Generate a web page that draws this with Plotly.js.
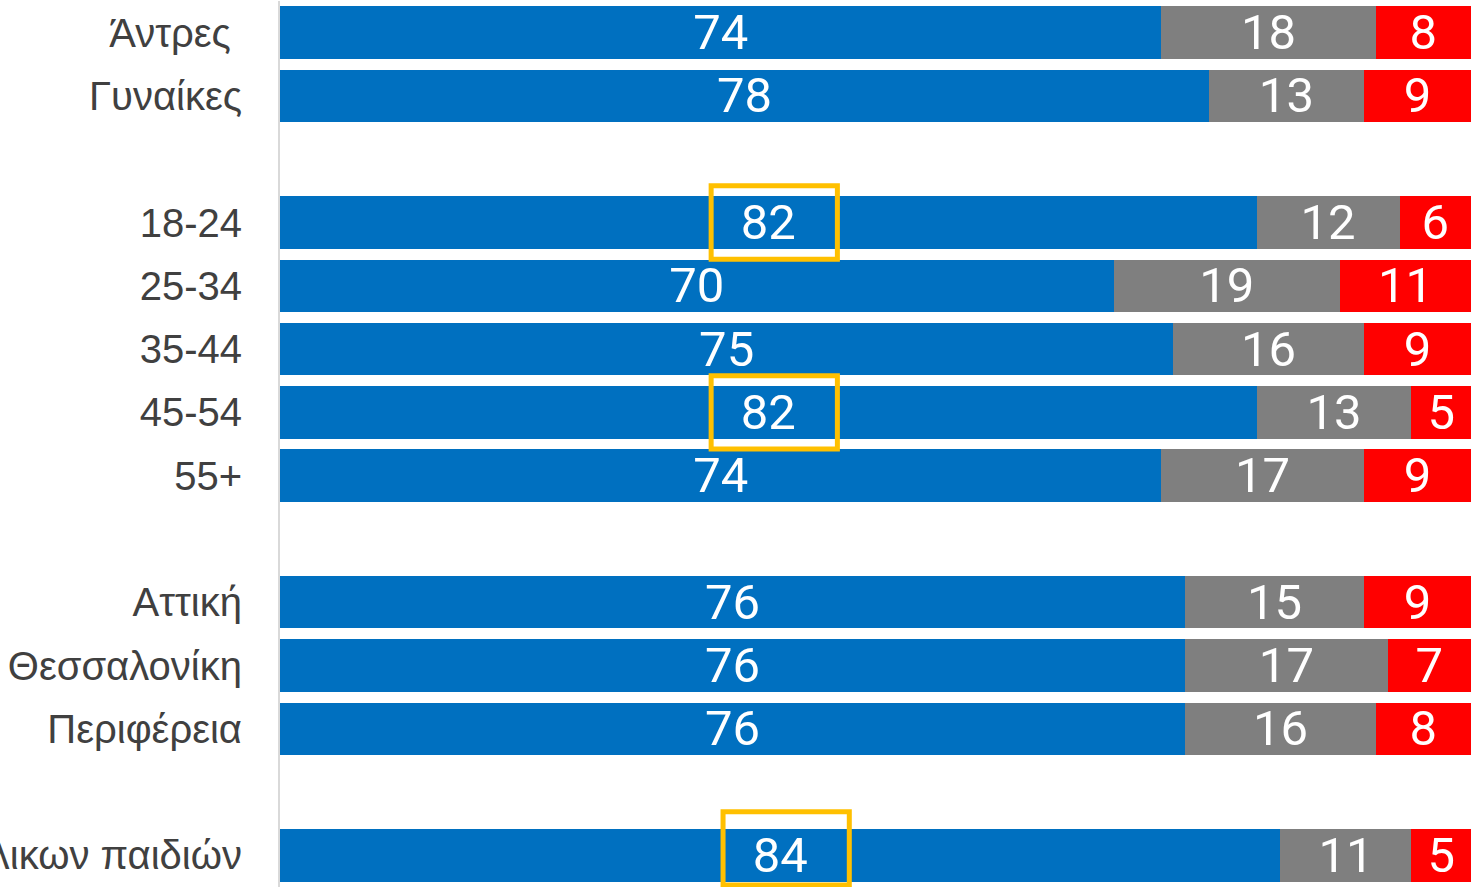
<!DOCTYPE html>
<html>
<head>
<meta charset="utf-8">
<script src="https://cdn.plot.ly/plotly-3.0.1.min.js"></script>
<style>html,body{margin:0;padding:0;background:#fff;}#chart{width:1483px;height:889px;}</style>
</head>
<body>
<div id="chart"></div>
<script>
// Categories (blank entries are spacer rows)
const categories = ['Άντρες\u00A0', 'Γυναίκες', ' ', '18-24', '25-34', '35-44', '45-54', '55+', '  ', 'Αττική', 'Θεσσαλονίκη', 'Περιφέρεια', '   ', 'Γονείς ανήλικων παιδιών'];
const blueValues = [74, 78, null, 82, 70, 75, 82, 74, null, 76, 76, 76, null, 84];
const grayValues = [18, 13, null, 12, 19, 16, 13, 17, null, 15, 17, 16, null, 11];
const redValues  = [8, 9, null, 6, 11, 9, 5, 9, null, 9, 7, 8, null, 5];
const highlighted = ['18-24', '45-54', 'Γονείς ανήλικων παιδιών'];

const labelFont = {family: 'Roboto, "Liberation Sans", sans-serif', size: 49, color: '#FFFFFF'};

function series(vals, color) {
  return {
    type: 'bar', orientation: 'h',
    y: categories, x: vals,
    marker: {color: color, line: {width: 0}},
    text: vals.map(v => v === null ? '' : String(v)),
    textposition: 'inside', insidetextanchor: 'middle',
    textangle: 0, constraintext: 'none',
    textfont: labelFont, insidetextfont: labelFont,
    hoverinfo: 'none', cliponaxis: false
  };
}

const data = [
  series(blueValues, '#0070C0'),
  series(grayValues, '#7F7F7F'),
  series(redValues, '#FF0000')
];

const yMax = categories.length - 0.5;
const shapes = highlighted.map(cat => {
  const i = categories.indexOf(cat);
  const c = blueValues[i] / 2 + 0.5;
  let y0 = i - 0.58, y1 = i + 0.58;
  const over = y1 - (yMax - 0.03);
  if (over > 0) { y0 -= over; y1 -= over; }
  return {
    type: 'rect', xref: 'x', yref: 'y',
    x0: c - 5.3, x1: c + 5.3, y0: y0, y1: y1,
    line: {color: '#FFC000', width: 5}, fillcolor: 'rgba(0,0,0,0)', layer: 'above'
  };
});

const layout = {
  width: 1483, height: 889,
  margin: {l: 280, r: 12, t: 1, b: 2, pad: 0},
  paper_bgcolor: '#FFFFFF', plot_bgcolor: '#FFFFFF',
  barmode: 'stack', bargap: 0.17,
  showlegend: false,
  xaxis: {range: [0, 100], showgrid: false, zeroline: false, showticklabels: false, showline: false, fixedrange: true},
  yaxis: {
    type: 'category', range: [yMax, -0.5], autorange: false,
    showgrid: false, zeroline: false,
    showline: true, linecolor: '#D9D9D9', linewidth: 2,
    ticks: '', ticklabelstandoff: 28, automargin: false,
    tickfont: {family: '"Liberation Sans", Arial, sans-serif', size: 40, color: '#404040'}
  },
  shapes: shapes
};

Plotly.newPlot('chart', data, layout, {displayModeBar: false, staticPlot: true});
</script>
</body>
</html>
